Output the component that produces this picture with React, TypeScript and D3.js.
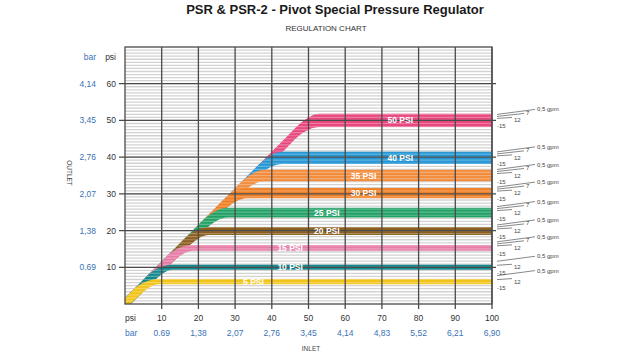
import React from 'react';
import * as d3 from 'd3';

// set pressures of the regulators, top band first
const setPressures = [50, 40, 35, 30, 25, 20, 15, 10, 5];
// outlet level (psi) where each band settles
const bandLevels = [50, 39.8, 35, 30.2, 24.9, 19.9, 15.3, 10, 6.1];
// vertical spread of each band on the flat part (psi)
const bandSpread = [3.6, 3.4, 3.2, 2.8, 2.7, 2.2, 1.6, 1.4, 1.4];
const bandColors = ['#e8487f', '#2497d4', '#f28d3e', '#f07e22', '#22a165', '#8b5f1f', '#e77ba6', '#13898f', '#f1c419'];
// flow marks at right end of each band
const flowMarks = ['0,5 gpm', '7', '12', '-15'];
const hasSeven = [true, true, true, true, true, true, true, false, false];

const psiTicks = [10, 20, 30, 40, 50, 60, 70, 80, 90, 100];
const barTicks = ['0.69', '1,38', '2,07', '2,76', '3,45', '4,14', '4,83', '5,52', '6,21', '6,90'];
const outletPsi = [10, 20, 30, 40, 50, 60];
const outletBar = ['0.69', '1,38', '2,07', '2,76', '3,45', '4,14'];

const W = 630;
const H = 354;
const font = '"Liberation Sans", Arial, sans-serif';

const App: React.FC = () => {
  const x = d3.scaleLinear().domain([0, 100]).range([125, 492]);
  const y = d3.scaleLinear().domain([0, 70]).range([304, 47]);

  const diagSpread = 3.0;

  // centerline of a band: along the diagonal, round corner, then flat
  const bandPoints = (L: number, spread: number) => [
    { i: 0, o: 0, s: diagSpread },
    { i: L - 6, o: L - 6, s: diagSpread },
    { i: L - 3, o: L - 3, s: diagSpread },
    { i: L + 3, o: L, s: spread },
    { i: L + 6, o: L, s: spread },
    { i: 100, o: L, s: spread },
  ];

  const area = d3.area<{ i: number; o: number; s: number }>()
    .x(d => x(d.i))
    .y0(d => y(d.o - d.s / 2))
    .y1(d => y(d.o + d.s / 2))
    .curve(d3.curveMonotoneX);

  const bandPaths = bandLevels.map((L, k) => area(bandPoints(L, bandSpread[k])) as string);

  const minorStep = 10 / 12;
  const minor = d3.range(minorStep, 70, minorStep);

  const labelInlet = (s: number) => Math.min(75, 35 + 10 * Math.floor(s / 10));

  return (
    <svg width={W} height={H} style={{ position: 'absolute', left: 0, top: 0, background: '#fff' }} fontFamily={font}>
      <defs>
        <clipPath id="plot">
          <rect x={x(0)} y={y(70)} width={x(100) - x(0)} height={y(0) - y(70)} />
        </clipPath>
        <clipPath id="bands">
          {bandPaths.map((p, k) => <path key={k} d={p} />)}
        </clipPath>
      </defs>

      {/* title */}
      <text x={335} y={14} textAnchor="middle" fontSize={13} fontWeight="bold" fill="#1a1a1a">
        PSR &amp; PSR-2 - Pivot Special Pressure Regulator
      </text>
      <text x={326} y={31} textAnchor="middle" fontSize={8} fill="#333">REGULATION CHART</text>

      {/* minor stripes */}
      <g clipPath="url(#plot)">
        {minor.map((v, k) => (
          <line key={k} x1={x(0)} x2={x(100)} y1={y(v)} y2={y(v)} stroke="#d2d2d2" strokeWidth={1.3} />
        ))}
      </g>

      {/* regulation bands */}
      <g clipPath="url(#plot)">
        {bandPaths.map((p, k) => (
          <path key={k} d={p} fill={bandColors[k]} />
        ))}
      </g>
      <g clipPath="url(#bands)">
        {minor.map((v, k) => (
          <line key={k} x1={x(0)} x2={x(100)} y1={y(v)} y2={y(v)} stroke="#fff" strokeOpacity={0.28} strokeWidth={1.2} />
        ))}
      </g>

      {/* major grid */}
      {psiTicks.map(t => (
        <line key={'v' + t} x1={x(t)} x2={x(t)} y1={y(70)} y2={y(0) + 5} stroke="#4a4a4a" strokeWidth={1.3} />
      ))}
      {outletPsi.map(t => (
        <line key={'h' + t} x1={x(0) - 6} x2={x(100) + 4} y1={y(t)} y2={y(t)} stroke="#4a4a4a" strokeWidth={1.2} />
      ))}
      <rect x={x(0)} y={y(70)} width={x(100) - x(0)} height={y(0) - y(70)} fill="none" stroke="#4a4a4a" strokeWidth={1.3} />

      {/* band labels */}
      {setPressures.map((s, k) => (
        <text key={'l' + s} x={x(labelInlet(s))} y={y(bandLevels[k]) + 3} textAnchor="middle"
          fontSize={8.5} fontWeight="bold" fill="#fff">
          {s} PSI
        </text>
      ))}

      {/* flow marks on the right */}
      {bandLevels.map((L, k) => {
        const c = y(L);
        const x0 = x(100) + 5;
        return (
          <g key={'f' + k} fontSize={6} fill="#444" stroke="none">
            <line x1={x0} y1={c - 6} x2={x0 + 38} y2={c - 11} stroke="#555" strokeWidth={0.7} />
            <text x={x0 + 40} y={c - 9}>{flowMarks[0]}</text>
            {hasSeven[k] && (
              <>
                <line x1={x0} y1={c - 4} x2={x0 + 27} y2={c - 7} stroke="#555" strokeWidth={0.7} />
                <text x={x0 + 29} y={c - 5.5}>{flowMarks[1]}</text>
              </>
            )}
            <line x1={x0} y1={c - 2} x2={x0 + 15} y2={c - 3} stroke="#555" strokeWidth={0.7} />
            <text x={x0 + 17} y={c + 2}>{flowMarks[2]}</text>
            <text x={x0} y={c + 8}>{flowMarks[3]}</text>
          </g>
        );
      })}

      {/* outlet axis */}
      <text x={96} y={60} textAnchor="end" fontSize={8.5} fill="#3a72b5">bar</text>
      <text x={116} y={60} textAnchor="end" fontSize={8.5} fill="#333">psi</text>
      {outletPsi.map((t, k) => (
        <g key={'o' + t}>
          <text x={96} y={y(t) + 3} textAnchor="end" fontSize={8.5} fill="#3a72b5">{outletBar[k]}</text>
          <text x={116} y={y(t) + 3} textAnchor="end" fontSize={8.5} fill="#333">{t}</text>
        </g>
      ))}
      <text transform={`translate(67,173) rotate(90)`} textAnchor="middle" fontSize={6.5} fill="#444">OUTLET</text>

      {/* inlet axis */}
      <text x={125} y={321} fontSize={8.5} fill="#333">psi</text>
      <text x={125} y={336} fontSize={8.5} fill="#3a72b5">bar</text>
      {psiTicks.map((t, k) => (
        <g key={'i' + t}>
          <text x={x(t)} y={321} textAnchor="middle" fontSize={8.5} fill="#333">{t}</text>
          <text x={x(t)} y={336} textAnchor="middle" fontSize={8.5} fill="#3a72b5">{barTicks[k]}</text>
        </g>
      ))}
      <text x={311} y={351} textAnchor="middle" fontSize={6.5} fill="#444">INLET</text>
    </svg>
  );
};

export default App;
